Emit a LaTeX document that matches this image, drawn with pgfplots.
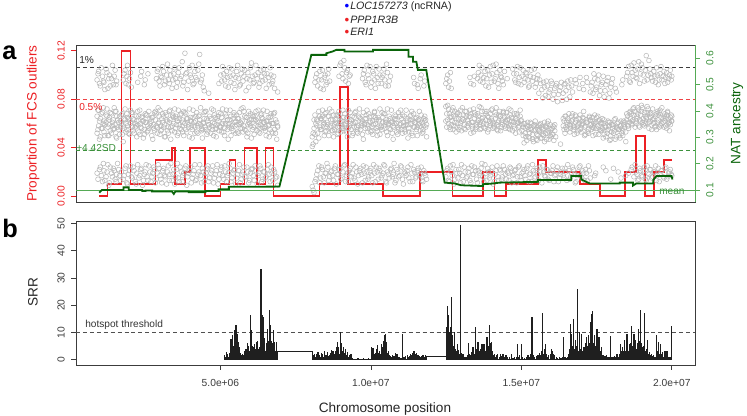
\documentclass[border=0pt]{standalone}
\usepackage{pgfplots}
\pgfplotsset{compat=1.18}
\usepackage{pgfplotstable}
\usepackage{fontspec}
\setmainfont{Liberation Sans}
\setsansfont{Liberation Sans}
\definecolor{rred}{RGB}{236,32,36}
\definecolor{dkgreen}{RGB}{10,100,10}
\definecolor{mgreen}{RGB}{85,170,85}
\definecolor{tgreen}{RGB}{60,145,60}
\definecolor{ptgray}{RGB}{184,184,184}
\definecolor{boxgray}{RGB}{60,60,60}
\newcommand\tk{\fontsize{7.7}{9}\selectfont}
\newcommand\lb{\fontsize{10.2}{12}\selectfont}
\newcommand\sm{\fontsize{7.6}{9}\selectfont}

\pgfplotstableread{
x t m1 m2 b
0.90 .096 .066 .052 .019
0.95 .103 .058 .071 nan
1.01 .091 .064 .049 .024
1.08 .099 .069 .056 .012
1.13 .094 .053 .062 .021
1.20 .105 .061 .067 .016
1.26 .089 .057 .050 .026
1.31 .100 .065 .059 .011
1.38 .097 .052 .068 .019
1.44 .092 .063 .055 .023
1.50 .104 .059 .070 .014
1.55 .095 .066 .048 .018
1.62 nan .055 .061 .022
1.68 nan .062 .057 .013
1.74 nan .068 .051 nan
1.80 .101 .056 .064 .017
1.86 .093 .060 .053 .025
1.91 .108 .065 .058 .010
1.98 .097 .051 .063 .021
2.04 .090 .058 .069 .016
2.10 nan .064 .054 .024
2.17 nan .057 .060 .012
2.22 nan .062 .049 .019
2.29 nan .053 .066 .015
2.35 .099 .060 .057 .022
2.41 nan .066 .062 .009
2.47 .092 .055 .051 .018
2.53 nan .061 .067 .026
2.59 .101 .058 .054 .013
2.66 nan .064 .060 .020
2.72 nan .050 .065 .016
2.78 nan .059 .056 .024
2.84 nan .063 .070 .011
2.90 .103 .057 .052 .019
2.96 .095 .066 .061 .023
3.02 .099 .054 .058 .014
3.08 .107 .061 .068 .021
3.14 .092 .059 .049 .017
3.21 .100 .067 .063 .010
3.27 .096 .052 .057 .025
3.32 .104 .063 .071 .018
3.39 .089 .058 .054 .013
3.45 .101 .065 .060 .022
3.51 .097 .056 .066 .016
3.57 .094 .062 .050 .027
3.63 .106 .059 .064 .012
3.70 .099 .068 .055 .020
3.75 .091 .053 .061 .017
3.82 .118 .060 .069 .023
3.88 .102 .064 .053 .009
3.94 .095 .057 .059 .019
4.00 .100 .062 .065 .024
4.06 .108 .055 .048 .015
4.12 .093 .061 .058 .021
4.18 .098 .066 .062 .013
4.25 .104 .058 .052 .018
4.31 .117 .063 .067 .026
4.37 .096 .054 .056 .011
4.43 .090 .060 .061 .020
4.49 nan .057 .070 .016
4.55 nan .064 .051 .023
4.61 .085 .059 .059 .012
4.68 nan .052 .064 .019
4.74 nan .061 .055 .025
4.80 nan .067 .060 .015
4.86 nan .056 .049 .021
4.92 nan .062 .066 .010
4.98 nan .058 .057 .018
5.04 .095 .065 .053 .024
5.11 .101 .053 .062 .014
5.17 .091 .060 .068 .020
5.23 .098 .063 .055 .017
5.29 .106 .057 .060 .027
5.35 .094 .066 .050 .012
5.42 .100 .054 .064 .019
5.48 .088 .061 .058 .022
5.54 .103 .059 .067 .015
5.60 .097 .064 .052 .021
5.66 .092 .056 .061 .011
5.72 .105 .062 .056 .018
5.78 .099 .058 .070 .024
5.85 .087 .065 .054 .016
5.91 .102 .052 .059 .020
5.97 .096 .060 .063 .013
6.03 .110 .063 .048 .022
6.09 .093 .057 .066 .017
6.15 .100 .066 .058 .025
6.22 .097 .054 .062 .010
6.28 .090 .061 .053 .019
6.34 .104 .059 .067 .023
6.40 .095 .064 .057 .014
6.46 .101 .056 .061 .020
6.52 .089 .062 .050 .016
6.59 .098 .058 .065 .026
6.65 .106 .065 .055 .012
6.71 .093 .053 .060 .019
6.77 .099 .060 .068 .022
6.83 nan .063 .052 .015
6.90 .086 .057 .058 .009
8.05 nan .049 .041 .008
8.11 nan .056 .063 .003
8.17 .098 .045 .060 .014
8.23 .091 .062 .052 .021
8.30 .103 .057 .066 .011
8.36 .096 .064 .055 .024
8.42 .088 .059 .061 .016
8.48 .100 .053 .068 .019
8.54 .094 .061 .057 .027
8.60 .105 .066 .050 .013
8.67 nan .058 .063 .020
8.73 nan .063 .054 .017
8.79 nan .055 .059 .023
8.85 nan .060 .067 .010
8.91 nan .067 .052 .018
8.97 .108 .057 .061 .022
9.04 .101 .062 .056 .015
9.10 .112 .054 .065 .025
9.16 .095 .060 .058 .012
9.22 .104 .065 .049 .019
9.28 .099 .058 .062 .021
9.35 nan .063 .055 .016
9.41 nan .052 .060 .026
9.47 nan .061 .069 .013
9.53 nan .057 .053 .020
9.59 nan .066 .058 .017
9.66 nan .055 .064 .023
9.72 .097 .062 .051 .011
9.78 .104 .059 .060 .019
9.84 .092 .064 .067 .024
9.90 .100 .053 .056 .014
9.97 .107 .061 .062 .021
10.03 .094 .057 .054 .017
10.09 .101 .066 .059 .026
10.15 .089 .060 .065 .012
10.21 .098 .054 .050 .020
10.27 .105 .062 .063 .023
10.34 .093 .058 .057 .015
10.40 .100 .065 .061 .019
10.46 .096 .056 .068 .025
10.52 .109 .061 .053 .011
10.58 .091 .059 .060 .018
10.65 .099 .064 .055 .022
10.71 nan .052 .062 .016
10.77 nan .060 .057 .027
10.83 nan .063 .066 .013
10.89 nan .057 .051 .020
10.96 nan .066 .059 .017
11.02 nan .055 .064 .024
11.08 nan .061 .058 .010
11.14 nan .058 .053 .019
11.20 nan .064 .062 .021
11.26 nan .053 .056 .015
11.33 nan .060 .067 .026
11.39 nan .062 .050 .012
11.45 .093 .057 .061 .020
11.51 nan .065 .055 .016
11.57 .089 .059 .063 .023
11.64 .097 .054 .058 .018
11.70 nan .061 .052 .013
11.76 .091 .058 .064 .021
11.82 nan .063 .057 .017
12.52 .097 .068 .057 .021
12.58 .090 .060 .072 .013
12.64 .102 .065 .055 .025
12.70 nan .071 .062 .017
12.76 nan .058 .066 .010
12.83 nan .064 .053 .022
12.89 nan .069 .060 .015
12.95 nan .057 .067 .019
13.01 nan .062 .054 .026
13.07 nan .067 .063 .012
13.13 nan .055 .070 .020
13.20 nan .063 .058 .016
13.26 nan .060 .066 .023
13.32 .093 .068 .052 .011
13.38 nan .056 .061 .018
13.44 .099 .064 .069 .024
13.51 nan .059 .057 .014
13.57 .102 .066 .063 .021
13.63 .095 .061 .055 .017
13.69 .106 .070 .064 .027
13.75 .098 .057 .060 .012
13.82 .091 .063 .068 .019
13.88 .104 .066 .053 .023
13.94 .100 .058 .062 .015
14.00 .094 .064 .071 .020
14.06 .108 .060 .056 .010
14.13 .097 .069 .064 .018
14.19 .102 .055 .059 .025
14.25 .089 .062 .067 .013
14.31 .099 .066 .054 .021
14.37 .095 .059 .063 .016
14.44 .103 .065 .058 .022
14.50 nan .061 .069 .014
14.56 nan .056 .060 .019
14.62 nan .067 .055 .024
14.68 nan .062 .065 .011
14.75 .101 .058 .061 .018
14.81 .094 .064 .052 .022
14.87 .107 .060 .067 .016
14.93 .098 .053 .058 .025
14.99 .092 .063 .062 .013
15.06 .104 .057 .050 .020
15.12 .097 .052 .060 .017
15.18 .101 .058 .046 .023
15.24 .090 .049 .055 .012
15.30 .099 .056 .061 .019
15.37 .095 .051 .047 .026
15.43 .105 .059 .054 .015
15.49 .093 .047 .058 .021
15.55 .100 .055 .050 .018
15.61 .096 .053 .059 .024
15.68 .088 .057 .048 .011
15.74 .094 .050 .056 .020
15.80 .083 .058 .052 .016
15.86 .091 .052 .060 .022
15.92 .086 .056 .047 .013
15.99 .095 .049 .055 .019
16.05 .080 .058 .051 .025
16.11 .089 .054 .059 .017
16.17 .093 nan nan .021
16.23 .084 nan nan .012
16.30 .090 .043 nan .018
16.36 .079 nan nan .023
16.42 .092 .062 .055 .015
16.48 .087 .057 .066 .020
16.54 .095 .064 .059 .026
16.61 .082 .059 .053 .014
16.67 .091 .066 .062 .019
16.73 nan .055 .058 .022
16.79 .096 .061 .067 .011
16.85 nan .058 .052 .017
16.92 .089 .064 .060 .024
16.98 nan .053 .056 .016
17.04 .093 .060 .065 .021
17.10 nan .057 .050 .013
17.16 .098 .063 .061 .019
17.23 nan .052 .055 .025
17.29 .086 .059 .063 .015
17.35 .094 .065 .057 nan
17.41 .101 .056 .060 nan
17.47 .088 .061 .051 .019
17.54 .096 .058 .066 nan
17.60 .083 .063 .055 nan
17.66 .092 .054 .061 nan
17.72 .099 .060 .048 .024
17.78 .087 .057 .058 nan
17.85 .095 .052 .054 nan
17.91 .081 .058 .061 nan
17.97 .090 .050 .047 .014
18.03 .097 .059 .056 nan
18.09 nan .054 .063 nan
18.16 .086 .057 .049 nan
18.22 nan .061 .055 .020
18.28 nan .048 .058 nan
18.34 .092 .056 .052 nan
18.40 nan .059 .062 nan
18.47 nan .053 .045 .017
18.53 .102 .066 .058 nan
18.59 .095 .061 .069 nan
18.65 .108 .068 .060 .022
18.71 .099 .063 .072 nan
18.78 .104 .070 .057 .026
18.84 .097 .064 .066 .018
18.90 .111 .058 .071 .014
18.96 .101 .067 .062 .021
19.02 .106 .061 .073 .016
19.09 .095 .069 .058 .024
19.15 .116 .065 .064 .013
19.21 .100 .072 .060 .019
19.27 .105 .062 .068 .022
19.33 .098 .067 .055 .015
19.40 .103 .060 .064 .020
19.46 .094 .066 .058 .025
19.52 .100 .061 .070 .017
19.58 .096 .069 .057 .012
19.64 .107 .058 .065 .021
19.71 .099 .064 .061 .016
19.77 .093 .062 .068 .023
19.83 .102 .067 .056 .014
19.89 .097 .060 .063 .019
19.95 .104 .065 .059 .022
20.00 .099 .062 .066 .017
}\pts

\pgfplotstableread{
x t m1 m2 b
0.93 .101 .071 .055 .014
0.98 .093 .062 .047 .022
1.04 .106 .056 .068 .017
1.11 .095 .073 .060 .027
1.16 .088 .059 .050 .013
1.23 .102 .066 .072 .020
1.29 .097 .050 .063 .009
1.34 .091 .069 .054 .024
1.41 .108 .061 .058 .016
1.47 .099 .056 .073 .021
1.53 .092 .070 .049 .012
1.58 nan .063 .057 .027
1.65 nan .051 .066 .017
1.71 nan .067 .060 .020
1.77 .096 .058 .045 .014
1.83 .104 .072 .063 .023
1.89 .099 .055 .068 .011
1.94 .092 .064 .052 .018
2.01 .102 .060 .071 .025
2.07 nan .069 .057 .015
2.13 nan .052 .063 .021
2.20 nan .066 .058 .010
2.25 .094 .059 .070 .026
2.32 nan .071 .051 .017
2.38 .103 .056 .065 .023
2.44 nan .062 .048 .013
2.50 .096 .068 .061 .020
2.56 nan .053 .067 .016
2.62 nan .070 .056 .025
2.69 nan .058 .062 .012
2.75 nan .065 .047 .019
2.81 nan .054 .069 .022
2.87 .097 .068 .058 .014
2.93 .105 .060 .073 .026
2.99 .091 .071 .051 .017
3.05 .098 .055 .064 .011
3.11 .103 .066 .057 .023
3.17 .095 .049 .069 .016
3.24 .109 .062 .054 .020
3.30 .093 .070 .061 .013
3.35 .100 .057 .047 .027
3.42 .096 .067 .066 .018
3.48 .106 .053 .072 .010
3.54 .090 .064 .059 .022
3.60 .102 .071 .052 .015
3.66 .097 .056 .067 .024
3.73 .111 .063 .058 .012
3.78 .094 .050 .070 .019
3.85 .101 .068 .055 .025
3.91 .088 .061 .064 .016
3.97 .106 .072 .049 .021
4.03 .098 .057 .062 .011
4.09 .092 .065 .071 .018
4.15 .103 .052 .057 .026
4.21 .096 .069 .053 .014
4.28 .109 .060 .066 .020
4.34 .094 .073 .059 .017
4.40 .100 .055 .048 .023
4.46 .087 .064 .069 .012
4.52 nan .070 .055 .019
4.58 nan .053 .062 .025
4.64 nan .066 .057 .015
4.71 nan .058 .072 .021
4.77 nan .071 .050 .011
4.83 nan .055 .065 .018
4.89 nan .064 .059 .026
4.95 .093 .069 .054 .014
5.01 .100 .057 .068 .022
5.07 .107 .072 .060 .017
5.14 .096 .050 .056 .025
5.20 .103 .066 .071 .012
5.26 .090 .059 .047 .019
5.32 .099 .071 .063 .023
5.38 .105 .056 .058 .015
5.45 .093 .067 .069 .021
5.51 .098 .062 .052 .010
5.57 .108 .053 .064 .018
5.63 .091 .069 .059 .026
5.69 .101 .060 .072 .014
5.75 .095 .073 .053 .020
5.81 .104 .055 .066 .016
5.88 .097 .065 .049 .024
5.94 .090 .070 .061 .011
6.00 .106 .058 .068 .019
6.06 .099 .067 .055 .023
6.12 .094 .051 .063 .013
6.18 .108 .063 .070 .021
6.25 .102 .071 .058 .017
6.31 .093 .056 .052 .025
6.37 .099 .068 .065 .012
6.43 .105 .061 .071 .020
6.49 .096 .054 .057 .015
6.55 .101 .070 .062 .022
6.62 .092 .059 .049 .018
6.68 .100 .066 .068 .024
6.74 .095 .052 .060 .013
6.80 .089 .069 .055 .020
6.87 nan .061 .047 .016
8.08 nan .043 .052 .005
8.14 .094 .051 .067 .012
8.20 .101 .063 .058 .018
8.27 .096 .070 .048 .025
8.33 .089 .055 .064 .015
8.39 .104 .066 .071 .022
8.45 .098 .050 .060 .011
8.51 .092 .069 .054 .019
8.57 .101 .059 .066 .024
8.63 .095 .072 .057 .016
8.70 nan .054 .070 .021
8.76 nan .067 .049 .013
8.82 nan .061 .063 .025
8.88 nan .051 .057 .018
8.94 .099 .070 .066 .022
9.00 .110 .062 .053 .014
9.07 .097 .056 .071 .020
9.13 .106 .068 .059 .026
9.19 .102 .053 .064 .017
9.25 .093 .071 .056 .012
9.31 .100 .060 .069 .023
9.38 nan .066 .050 .019
9.44 nan .057 .065 .015
9.50 nan .070 .061 .024
9.56 nan .052 .055 .010
9.62 nan .065 .072 .021
9.69 nan .060 .058 .018
9.75 .101 .069 .047 .025
9.81 .094 .056 .064 .013
9.87 .108 .071 .059 .020
9.93 .097 .058 .068 .016
10.00 .090 .066 .053 .023
10.06 .103 .051 .062 .011
10.12 .096 .069 .070 .019
10.18 .107 .063 .056 .024
10.24 .093 .057 .065 .014
10.30 .100 .072 .051 .021
10.37 .098 .055 .069 .017
10.43 .105 .068 .058 .026
10.49 .091 .061 .063 .012
10.55 .102 .050 .072 .020
10.61 .095 .066 .056 .015
10.68 nan .071 .061 .023
10.74 nan .058 .047 .018
10.80 nan .064 .067 .011
10.86 nan .053 .060 .022
10.92 nan .069 .055 .016
10.99 nan .060 .071 .025
11.05 nan .067 .052 .014
11.11 nan .055 .066 .020
11.17 nan .071 .059 .017
11.23 nan .059 .048 .024
11.30 nan .066 .063 .012
11.36 nan .052 .070 .019
11.42 .098 .068 .057 .022
11.48 nan .061 .064 .015
11.54 .092 .057 .050 .021
11.61 nan .070 .060 .017
11.67 .100 .063 .067 .024
11.73 nan .053 .055 .012
11.79 .095 .066 .062 .019
11.85 nan .059 .049 .014
12.49 .093 .062 .074 .016
12.55 .100 .075 .063 .023
12.61 .095 .057 .068 .012
12.67 .089 .066 .059 .020
12.73 nan .073 .055 .026
12.79 nan .061 .070 .014
12.86 nan .068 .057 .019
12.92 nan .055 .064 .022
12.98 nan .071 .060 .011
13.04 nan .064 .073 .017
13.10 nan .059 .056 .024
13.17 nan .070 .066 .015
13.23 nan .057 .062 .020
13.29 .098 .066 .071 .013
13.35 nan .061 .058 .025
13.41 .092 .072 .053 .018
13.48 nan .055 .067 .021
13.54 .097 .068 .061 .011
13.60 .108 .059 .074 .019
13.66 .100 .073 .056 .023
13.72 .094 .062 .065 .016
13.79 .103 .056 .070 .026
13.85 .097 .070 .059 .013
13.91 .090 .065 .055 .020
13.97 .107 .060 .068 .017
14.03 .101 .072 .062 .024
14.10 .095 .058 .057 .012
14.16 .109 .067 .073 .021
14.22 .093 .061 .054 .016
14.28 .104 .070 .066 .022
14.34 .098 .057 .061 .014
14.40 .092 .069 .070 .025
14.47 nan .062 .056 .018
14.53 .097 .066 .063 .020
14.59 nan .058 .072 .013
14.65 nan .071 .059 .023
14.71 .105 .064 .054 .017
14.78 .096 .056 .068 .021
14.84 .101 .068 .062 .011
14.90 .093 .061 .057 .024
14.96 .106 .066 .071 .016
15.02 .099 .054 .059 .019
15.09 .094 .060 .044 .022
15.15 .102 .049 .056 .014
15.21 .096 .057 .061 .025
15.27 .091 .052 .048 .018
15.33 .104 .060 .055 .012
15.40 .098 .045 .058 .021
15.46 .090 .055 .062 .016
15.52 .097 .051 .046 .023
15.58 .085 .058 .054 .013
15.64 .093 .048 .060 .020
15.71 .081 .055 .051 .025
15.77 .090 .061 .045 .017
15.83 .095 .047 .057 .022
15.89 .082 .054 .062 .014
15.96 .088 .059 .050 .019
16.02 .093 .051 .056 .021
16.08 .084 .057 .046 .012
16.14 .091 .049 nan .018
16.20 .078 nan nan .024
16.27 .087 nan nan .015
16.33 .094 nan nan .020
16.39 .085 .058 .064 .017
16.45 .093 .066 .052 .023
16.51 .080 .055 .061 .013
16.58 .090 .062 .068 .021
16.64 .096 .058 .056 .016
16.70 .086 .068 .063 .024
16.76 nan .057 .051 .018
16.82 .093 .063 .066 .012
16.89 nan .054 .059 .020
16.95 .098 .067 .055 .025
17.01 nan .059 .062 .015
17.07 .088 .064 .070 .019
17.13 nan .051 .058 .022
17.19 .094 .061 .053 .013
17.26 nan .066 .065 .021
17.32 .091 .055 .059 nan
17.38 .085 .062 .050 nan
17.44 .097 .058 .067 .017
17.50 .090 .065 .056 nan
17.57 .100 .051 .062 nan
17.63 .087 .060 .054 nan
17.69 .094 .056 .064 nan
17.75 .082 .063 .051 nan
17.81 .092 .049 .057 .021
17.88 .098 .055 .062 nan
17.94 .085 .061 .046 nan
18.00 .093 .053 .059 nan
18.06 nan .058 .052 .023
18.12 .089 .047 .064 nan
18.19 nan .060 .056 nan
18.25 nan .055 .050 nan
18.31 nan .062 .058 .015
18.37 .096 .050 .054 nan
18.43 nan .057 .061 nan
18.50 .099 .063 .068 nan
18.56 .107 .058 .056 .019
18.62 .094 .070 .064 nan
18.68 .102 .062 .059 .024
18.74 .110 .067 .073 .016
18.81 .098 .060 .062 .020
18.87 .105 .073 .068 .013
18.93 .093 .063 .057 .023
18.99 .109 .070 .075 .017
19.05 .100 .059 .064 .021
19.12 .104 .066 .060 .014
19.18 .096 .074 .069 .025
19.24 .112 .061 .056 .018
19.30 .101 .069 .065 .022
19.36 .095 .063 .072 .016
19.43 .099 .057 .061 .020
19.49 .106 .068 .055 .013
19.55 .092 .063 .067 .023
19.61 .101 .071 .059 .018
19.67 .096 .060 .073 .021
19.74 .103 .066 .057 .015
19.80 .098 .058 .064 .024
19.86 .094 .069 .070 .016
19.92 .100 .061 .054 .020
19.98 .096 .067 .062 .018
}\ptsb

\pgfplotstableread{
x v
5.13 1.5
5.16 0.8
5.19 2.7
5.22 1.2
5.24 2.0
5.27 1.0
5.30 2.5
5.33 5.5
5.35 7.7
5.38 6.0
5.41 8.9
5.44 5.0
5.47 10.7
5.50 7.0
5.52 12.6
5.55 8.0
5.58 9.5
5.60 6.5
5.63 4.6
5.66 2.5
5.69 1.5
5.72 1.0
5.74 2.1
5.77 1.8
5.80 3.3
5.82 2.5
5.85 4.0
5.88 3.0
5.91 6.0
5.94 5.0
5.96 3.0
5.99 16.3
6.02 10.7
6.05 5.0
6.07 3.5
6.10 4.5
6.13 5.8
6.16 4.0
6.19 6.4
6.21 5.0
6.24 6.7
6.27 3.8
6.30 4.6
6.33 2.0
6.35 33.2
6.37 10.0
6.39 16.3
6.41 12.0
6.43 15.7
6.45 8.0
6.46 5.5
6.49 3.0
6.52 4.6
6.55 6.0
6.57 11.4
6.60 7.0
6.63 18.1
6.66 12.6
6.68 7.0
6.71 4.9
6.73 6.0
6.75 10.7
6.78 5.0
6.80 6.4
6.83 3.0
6.85 6.4
6.87 1.5
8.10 1.5
8.13 2.0
8.16 1.0
8.18 2.2
8.21 1.2
8.24 2.7
8.27 1.0
8.29 1.5
8.32 0.8
8.35 2.4
8.38 1.3
8.40 2.2
8.43 1.0
8.46 3.3
8.49 1.5
8.51 1.7
8.54 0.8
8.57 2.7
8.60 1.2
8.63 1.5
8.66 2.5
8.68 3.7
8.71 2.0
8.74 3.3
8.77 1.5
8.79 2.1
8.82 3.0
8.85 4.7
8.88 6.4
8.90 3.5
8.92 4.6
8.95 2.0
8.99 10.2
9.01 6.0
9.03 5.2
9.06 3.0
9.10 4.6
9.13 2.5
9.16 4.0
9.19 1.5
9.21 2.7
9.25 1.0
9.29 1.5
9.34 2.1
9.40 0.5
9.48 0.3
9.57 0.5
9.66 0.3
9.75 0.4
9.84 0.3
9.92 0.5
10.01 4.6
10.04 3.0
10.07 4.3
10.10 2.0
10.12 1.5
10.15 2.5
10.18 4.0
10.21 3.0
10.23 5.4
10.26 2.5
10.29 3.3
10.33 2.0
10.36 5.8
10.40 4.6
10.43 7.0
10.45 8.9
10.48 9.5
10.50 5.0
10.52 6.4
10.55 2.5
10.58 3.0
10.62 1.5
10.65 1.3
10.69 1.0
10.73 1.8
10.77 1.2
10.81 2.5
10.84 1.5
10.87 2.1
10.91 1.0
10.95 0.9
11.00 0.6
11.06 9.3
11.10 0.9
11.15 1.3
11.21 1.5
11.24 1.0
11.28 1.2
11.32 2.0
11.36 1.7
11.40 2.4
11.43 3.0
11.47 2.2
11.51 2.5
11.55 1.8
11.58 1.5
11.62 1.2
11.65 0.9
11.69 1.4
11.73 1.7
11.77 1.0
11.81 1.7
12.52 12.0
12.54 19.6
12.56 15.0
12.58 16.3
12.60 10.0
12.62 8.0
12.64 12.0
12.66 6.0
12.69 23.1
12.71 9.0
12.73 5.0
12.76 3.0
12.78 10.2
12.80 4.0
12.83 3.0
12.86 2.0
12.89 5.8
12.92 3.5
12.94 2.0
12.97 49.6
13.00 2.5
13.03 1.5
13.06 2.1
13.10 1.0
13.14 0.8
13.18 1.0
13.22 1.5
13.25 6.2
13.28 2.0
13.31 1.5
13.34 2.7
13.37 2.0
13.39 4.6
13.42 3.0
13.45 2.0
13.48 12.0
13.51 4.0
13.53 2.5
13.56 6.4
13.59 3.0
13.61 2.0
13.64 3.0
13.66 4.0
13.69 5.8
13.72 3.5
13.74 5.0
13.76 5.8
13.79 2.5
13.82 3.0
13.84 5.5
13.86 8.3
13.89 5.0
13.92 4.0
13.95 12.6
13.98 6.0
14.02 6.4
14.05 3.0
14.08 1.5
14.11 2.0
14.15 1.0
14.18 1.5
14.22 2.0
14.26 1.0
14.31 2.2
14.35 1.2
14.39 2.0
14.43 0.8
14.46 1.5
14.50 1.8
14.55 0.8
14.60 1.0
14.67 2.0
14.72 0.6
14.78 0.8
14.83 1.0
14.87 5.8
14.91 1.0
14.95 1.5
15.00 5.8
15.05 0.8
15.10 0.6
15.17 0.9
15.22 1.5
15.27 1.0
15.31 2.0
15.35 15.7
15.38 2.0
15.41 1.5
15.44 0.9
15.49 1.2
15.55 1.5
15.60 2.5
15.64 1.5
15.67 3.0
15.70 17.1
15.73 2.0
15.76 3.0
15.78 4.0
15.81 5.8
15.84 2.0
15.87 1.0
15.91 1.5
15.96 2.0
16.00 4.0
16.03 3.0
16.06 2.0
16.09 1.5
16.11 1.2
16.16 0.8
16.21 0.6
16.27 0.9
16.32 0.5
16.37 1.0
16.41 8.3
16.45 1.0
16.50 0.6
16.55 0.9
16.58 2.0
16.61 4.0
16.63 13.2
16.65 6.0
16.67 9.5
16.70 5.0
16.72 7.0
16.74 15.1
16.77 4.0
16.80 7.1
16.82 3.0
16.85 5.0
16.87 25.8
16.90 3.0
16.92 6.0
16.94 10.2
16.97 4.0
16.99 6.0
17.01 9.5
17.04 3.0
17.06 2.5
17.08 4.6
17.11 3.0
17.13 6.0
17.16 8.3
17.18 4.0
17.21 5.0
17.24 8.9
17.26 6.0
17.29 13.8
17.31 9.0
17.33 16.9
17.35 10.0
17.37 17.9
17.40 6.0
17.42 9.0
17.44 8.3
17.46 5.0
17.49 6.0
17.51 11.4
17.54 5.0
17.56 3.0
17.58 8.3
17.61 3.0
17.63 2.0
17.66 4.6
17.69 1.5
17.72 1.0
17.74 1.5
17.78 1.2
17.83 1.5
17.88 0.8
17.92 1.0
17.96 8.6
17.99 1.0
18.02 0.8
18.05 0.9
18.10 1.2
18.14 1.0
18.18 2.1
18.21 1.0
18.25 2.0
18.29 5.8
18.32 3.0
18.35 4.6
18.38 2.0
18.41 3.0
18.44 7.1
18.47 3.0
18.49 5.0
18.51 9.5
18.54 4.0
18.56 3.0
18.58 5.8
18.61 4.0
18.64 6.0
18.67 12.3
18.70 5.0
18.72 4.0
18.74 9.5
18.77 5.0
18.79 7.1
18.82 4.0
18.85 6.0
18.88 11.4
18.90 5.0
18.93 7.0
18.96 18.1
18.98 6.0
19.00 3.0
19.02 4.6
19.05 2.5
19.07 5.0
19.10 17.3
19.13 3.0
19.15 4.0
19.18 7.1
19.21 2.0
19.25 2.7
19.28 1.5
19.32 2.0
19.36 1.2
19.40 1.5
19.44 1.0
19.49 9.1
19.52 3.0
19.56 6.4
19.59 2.0
19.62 5.8
19.65 2.0
19.69 2.7
19.72 1.0
19.77 3.3
19.80 1.0
19.84 3.3
19.87 1.0
19.91 0.9
19.95 1.0
19.99 12.3
}\srr

\pgfplotsset{gpt/.style={only marks, mark=o, mark size=1.8pt, draw=ptgray, mark options={line width=0.4pt}}}

\begin{document}
\begin{tikzpicture}
\useasboundingbox (0,0) rectangle (560.25pt,312pt);
% ---------------- panel a, left axis
\begin{axis}[
  at={(57pt,160.5pt)}, anchor=south west,
  scale only axis, width=464.25pt, height=117.75pt,
  xmin=0.2, xmax=20.77, ymin=-0.0048, ymax=0.1248,
  axis line style={boxgray, line width=0.6pt},
  xtick=\empty,
  ytick={0,0.04,0.08,0.12},
  yticklabels={0.00,0.04,0.08,0.12},
  ytick pos=left, tick align=outside,
  major tick length=3.75pt,
  y tick style={rred, line width=0.6pt},
  yticklabel style={rotate=90, anchor=south, inner sep=0pt, font=\tk, text=rred},
  yticklabel shift=4.5pt,
]
\addplot[gpt] table[x=x,y=t]{\pts};
\addplot[gpt] table[x=x,y=m1]{\pts};
\addplot[gpt] table[x=x,y=m2]{\pts};
\addplot[gpt] table[x=x,y=b]{\pts};
\addplot[gpt] table[x=x,y=t]{\ptsb};
\addplot[gpt] table[x=x,y=m1]{\ptsb};
\addplot[gpt] table[x=x,y=m2]{\ptsb};
\addplot[gpt] table[x=x,y=b]{\ptsb};
\addplot[boxgray, line width=0.6pt, dash pattern=on 3pt off 2.2pt] coordinates {(0.2,0.1063) (20.77,0.1063)};
\addplot[rred!85, line width=0.6pt, dash pattern=on 3pt off 2.2pt] coordinates {(0.2,0.0797) (20.77,0.0797)};
\addplot[tgreen, line width=0.6pt, dash pattern=on 3pt off 2.2pt] coordinates {(0.2,0.0378) (20.77,0.0378)};
\addplot[rred, line width=1.35pt, const plot] coordinates {
(0.976,0) (1.25,0.01) (1.71,0.12) (2.01,0.01) (2.84,0.03) (3.39,0.04) (3.50,0.01) (3.81,0.02) (4.00,0.04) (4.48,0) (5.00,0.01) (5.30,0.03) (5.50,0.01) (5.80,0.04) (6.22,0.01) (6.50,0.04) (6.76,0) (8.29,0.01) (8.96,0.09) (9.23,0.01) (10.41,0) (11.62,0.02) (12.71,0) (13.72,0.02) (14.11,0) (14.50,0.01) (15.55,0.03) (15.81,0.02) (16.94,0.01) (17.60,0) (18.44,0.02) (18.82,0.05) (19.10,0) (19.40,0.02) (19.73,0.03) (20.01,0.03)};
\end{axis}
% ---------------- panel a, right axis
\begin{axis}[
  at={(57pt,160.5pt)}, anchor=south west,
  scale only axis, width=464.25pt, height=117.75pt,
  xmin=0.2, xmax=20.77, ymin=0.0545, ymax=0.6505,
  axis x line=none, axis y line*=right,
  axis line style={mgreen, line width=0.6pt},
  ytick={0.1,0.2,0.3,0.4,0.5,0.6},
  yticklabels={0.1,0.2,0.3,0.4,0.5,0.6},
  tick align=outside, major tick length=3.75pt,
  y tick style={mgreen, line width=0.6pt},
  yticklabel style={rotate=90, anchor=north, inner sep=0pt, font=\tk, text=tgreen},
  yticklabel shift=4.5pt,
]
\addplot[mgreen, line width=0.9pt] coordinates {(0.2,0.098) (20.77,0.098)};
\addplot[dkgreen, line width=1.35pt] coordinates {
(0.976,0.090) (1.06,0.100) (1.78,0.100) (1.78,0.110) (1.95,0.110) (1.95,0.100) (2.40,0.100) (2.40,0.096) (2.51,0.096) (2.51,0.098) (2.73,0.098) (2.73,0.094) (3.39,0.094) (3.45,0.085) (3.50,0.094) (3.95,0.094) (3.95,0.092) (4.50,0.092) (4.50,0.096) (4.94,0.096) (4.94,0.103) (5.28,0.103) (5.28,0.112) (6.96,0.113) (8.02,0.613) (8.52,0.613) (8.52,0.619) (8.73,0.626) (8.85,0.632) (9.12,0.632) (9.12,0.626) (10.07,0.626) (10.07,0.632) (11.25,0.632) (11.25,0.606) (11.40,0.606) (11.40,0.587) (11.51,0.587) (11.56,0.556) (11.84,0.556) (12.45,0.128) (12.78,0.125) (13.00,0.118) (13.72,0.115) (13.72,0.122) (14.00,0.124) (14.28,0.128) (15.55,0.131) (15.55,0.138) (16.66,0.138) (16.66,0.153) (16.99,0.153) (16.99,0.140) (17.27,0.125) (18.27,0.125) (18.27,0.128) (18.71,0.128) (18.71,0.117) (18.82,0.125) (19.38,0.125) (19.38,0.138) (19.49,0.153) (19.99,0.153) (20.02,0.140)};
\end{axis}
% ---------------- panel b
\begin{axis}[
  at={(57pt,38.25pt)}, anchor=south west,
  scale only axis, width=464.25pt, height=108pt,
  xmin=0.2, xmax=20.77, ymin=-2, ymax=51,
  axis line style={boxgray, line width=0.6pt},
  xtick={5,10,15,20},
  xticklabels={5.0e+06,1.0e+07,1.5e+07,2.0e+07},
  ytick={0,10,20,30,40,50},
  yticklabels={0,10,20,30,40,50},
  xtick pos=bottom, ytick pos=left, tick align=outside,
  major tick length=3.75pt,
  tick style={boxgray, line width=0.6pt},
  yticklabel style={rotate=90, anchor=south, inner sep=0pt, font=\tk, text=boxgray},
  yticklabel shift=4.5pt,
  xticklabel style={anchor=north, inner sep=0pt, font=\tk, text=boxgray},
  xticklabel shift=7pt,
]
\addplot[boxgray!90, line width=0.6pt, dash pattern=on 3pt off 2.2pt] coordinates {(0.2,10) (20.77,10)};
\addplot[black!88, line width=0.75pt] coordinates {(5.13,0) (6.88,0) (6.88,2.8) (8.07,2.8) (8.07,0) (11.84,0) (11.84,1.2) (12.50,1.2) (12.50,0) (20.01,0)};
\addplot[ycomb, black!88, line width=0.9pt] table[x=x,y=v]{\srr};
\end{axis}
% ---------------- text
\node[anchor=base west, inner sep=0pt, font=\fontsize{19}{19}\selectfont\bfseries] at (1.5pt,267pt) {a};
\node[anchor=base west, inner sep=0pt, font=\fontsize{19}{19}\selectfont\bfseries] at (1.5pt,133.5pt) {b};
\node[rotate=90, text=rred, font=\lb] at (24.75pt,219.4pt) {Proportion of FCS outliers};
\node[rotate=90, text=dkgreen, font=\lb] at (552.75pt,219.4pt) {NAT ancestry};
\node[rotate=90, text=black!85, font=\lb] at (24.75pt,93pt) {SRR};
\node[anchor=base, inner sep=0pt, text=black!85, font=\lb] at (288.75pt,2.5pt) {Chromosome position};
\node[anchor=base west, inner sep=0pt, font=\sm, text=black!85] at (59.25pt,264.5pt) {1\%};
\node[anchor=base west, inner sep=0pt, font=\sm, text=rred] at (59.25pt,228.75pt) {0.5\%};
\node[anchor=base west, inner sep=0pt, font=\sm, text=tgreen] at (57pt,198pt) {+4.42SD};
\node[anchor=base west, inner sep=0pt, font=\sm, text=tgreen] at (494.25pt,165.75pt) {mean};
\node[anchor=base west, inner sep=0pt, font=\sm, text=black!80] at (63.75pt,66.4pt) {hotspot threshold};
\node[anchor=base, inner sep=0pt, font=\fontsize{10}{10}\selectfont, text=blue] at (260.25pt,303.8pt) {•};
\node[anchor=base, inner sep=0pt, font=\fontsize{10}{10}\selectfont, text=rred] at (260.25pt,293.8pt) {•};
\node[anchor=base, inner sep=0pt, font=\fontsize{10}{10}\selectfont, text=rred] at (260.25pt,284.3pt) {•};
\node[anchor=base west, inner sep=0pt, font=\fontsize{8}{9}\selectfont, text=black!85] at (262.5pt,304.5pt) {\textit{LOC157273} (ncRNA)};
\node[anchor=base west, inner sep=0pt, font=\fontsize{8}{9}\selectfont\itshape, text=black!85] at (262.5pt,294.5pt) {PPP1R3B};
\node[anchor=base west, inner sep=0pt, font=\fontsize{8}{9}\selectfont\itshape, text=black!85] at (262.5pt,285pt) {ERI1};
\end{tikzpicture}
\end{document}
